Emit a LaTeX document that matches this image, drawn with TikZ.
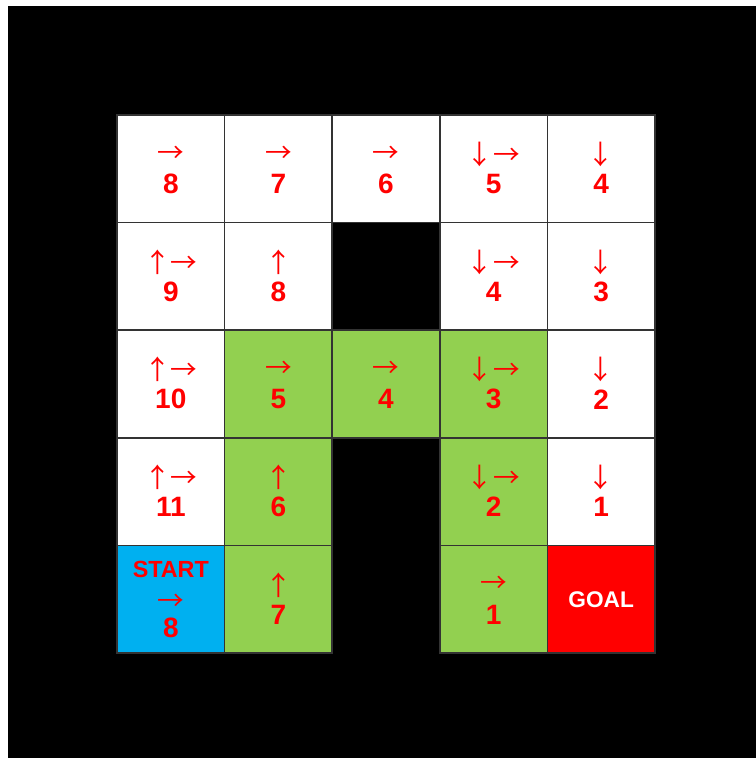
\documentclass[tikz,border=0pt]{standalone}
\usepackage{fontspec}
\setmainfont{Liberation Sans}
\newfontfamily\cjk{Noto Sans CJK JP}
\definecolor{cellgreen}{HTML}{92D050}
\definecolor{cellblue}{HTML}{00B0F0}
\definecolor{cellred}{HTML}{FF0000}
\definecolor{gridline}{HTML}{333333}
\tikzset{
  cellbox/.style={draw=gridline,line width=1.1pt,minimum width=80.7pt,minimum height=80.7pt,inner sep=0pt,outer sep=0pt},
  arrowtxt/.style={text=red,font=\cjk\fontsize{20pt}{20pt}\selectfont,inner sep=0pt},
  numtxt/.style={text=red,font=\bfseries\fontsize{21pt}{21pt}\selectfont,inner sep=0pt},
  starttxt/.style={text=red,font=\bfseries\fontsize{17.5pt}{17.5pt}\selectfont,inner sep=0pt},
  goaltxt/.style={text=white,font=\bfseries\fontsize{17pt}{17pt}\selectfont,inner sep=0pt}
}
\newcommand\gridcell[5]{%
  \node[cellbox,fill=#3] (c#1#2) at ({117+107.6*(#1+0.5)},{115+107.6*(#2+0.5)}) {};
  \node[arrowtxt] (a#1#2) at ([yshift=10.8pt]c#1#2.center) {#4};
  \node[numtxt] (n#1#2) at ([yshift=-11.5pt]c#1#2.center) {#5};
}
\begin{document}
\begin{tikzpicture}[x=0.75pt,y=-0.75pt]
\useasboundingbox (0,0) rectangle (756,758);
\fill[white] (0,0) rectangle (756,758);
\fill[black] (8,6) rectangle (756,758);
% row 0
\gridcell{0}{0}{white}{→}{8}
\gridcell{1}{0}{white}{→}{7}
\gridcell{2}{0}{white}{→}{6}
\gridcell{3}{0}{white}{↓→}{5}
\gridcell{4}{0}{white}{↓}{4}
% row 1
\gridcell{0}{1}{white}{↑→}{9}
\gridcell{1}{1}{white}{↑}{8}
\gridcell{3}{1}{white}{↓→}{4}
\gridcell{4}{1}{white}{↓}{3}
% row 2
\gridcell{0}{2}{white}{↑→}{10}
\gridcell{1}{2}{cellgreen}{→}{5}
\gridcell{2}{2}{cellgreen}{→}{4}
\gridcell{3}{2}{cellgreen}{↓→}{3}
\gridcell{4}{2}{white}{↓}{2}
% row 3
\gridcell{0}{3}{white}{↑→}{11}
\gridcell{1}{3}{cellgreen}{↑}{6}
\gridcell{3}{3}{cellgreen}{↓→}{2}
\gridcell{4}{3}{white}{↓}{1}
% row 4
\gridcell{1}{4}{cellgreen}{↑}{7}
\gridcell{3}{4}{cellgreen}{→}{1}
% start
\node[cellbox,fill=cellblue] (start) at ({117+107.6*0.5},{115+107.6*4.5}) {};
\node[starttxt] (starttext) at ([yshift=22pt]start.center) {START};
\node[arrowtxt] (startarrow) at ([yshift=-2.4pt]start.center) {→};
\node[numtxt] (startnum) at ([yshift=-21.4pt]start.center) {8};
% goal
\node[cellbox,fill=cellred] (goal) at ({117+107.6*4.5},{115+107.6*4.5}) {};
\node[goaltxt] (goaltext) at (goal.center) {GOAL};
\end{tikzpicture}
\end{document}
